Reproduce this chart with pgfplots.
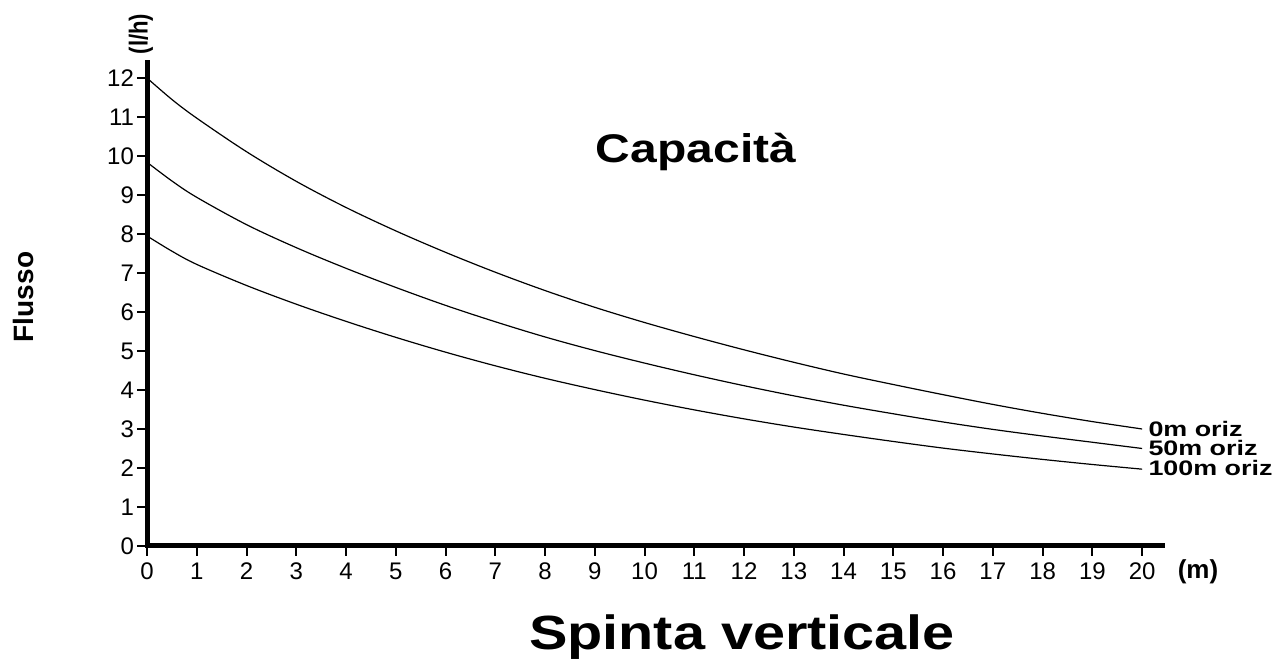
\documentclass[border=0pt]{standalone}
\usepackage{fontspec}
\setmainfont{Liberation Sans}
\usepackage{graphicx}
\usepackage{pgfplots}
\pgfplotsset{compat=1.18}
\begin{document}
\begin{tikzpicture}
\useasboundingbox (-73.5pt,-58pt) rectangle (566.5pt,273pt);
\begin{axis}[
  scale only axis, width=507.5pt, height=241.8pt,
  xmin=0, xmax=20.4, ymin=0, ymax=12.4,
  axis x line*=bottom, axis y line*=left,
  axis line style={line width=2.5pt, line cap=rect, black},
  xtick={0,...,20}, ytick={0,...,12},
  tick align=outside, major tick length=5pt,
  tick style={line width=1pt, black},
  tick label style={font=\fontsize{12}{14}\selectfont, black},
  yticklabel style={xshift=2pt},
  /pgf/number format/assume math mode=true,
  clip=false,
]
\addplot[black, line width=0.6pt, smooth, tension=0.55] coordinates {
(0,12.00) (0.5,11.45) (1,10.97) (2,10.11) (3,9.35) (4,8.68) (5,8.08) (6,7.53) (7,7.02) (8,6.55) (9,6.12) (10,5.73) (11,5.37) (12,5.03) (13,4.71) (14,4.41) (15,4.14) (16,3.88) (17,3.63) (18,3.40) (19,3.19) (20,3.00)};
\addplot[black, line width=0.6pt, smooth, tension=0.55] coordinates {
(0,9.84) (0.5,9.36) (1,8.94) (2,8.24) (3,7.65) (4,7.12) (5,6.63) (6,6.17) (7,5.75) (8,5.36) (9,5.01) (10,4.69) (11,4.39) (12,4.11) (13,3.85) (14,3.61) (15,3.39) (16,3.18) (17,2.99) (18,2.82) (19,2.66) (20,2.50)};
\addplot[black, line width=0.6pt, smooth, tension=0.55] coordinates {
(0,7.95) (0.5,7.56) (1,7.22) (2,6.68) (3,6.20) (4,5.76) (5,5.35) (6,4.97) (7,4.62) (8,4.30) (9,4.01) (10,3.74) (11,3.49) (12,3.26) (13,3.05) (14,2.86) (15,2.68) (16,2.51) (17,2.36) (18,2.22) (19,2.09) (20,1.97)};
\node[anchor=west, inner sep=0pt, xshift=3pt, font=\bfseries\fontsize{10.5}{12}\selectfont] at (axis cs:20,3) {\scalebox{1.28}[1]{0m oriz}};
\node[anchor=west, inner sep=0pt, xshift=3pt, font=\bfseries\fontsize{10.5}{12}\selectfont] at (axis cs:20,2.5) {\scalebox{1.28}[1]{50m oriz}};
\node[anchor=west, inner sep=0pt, xshift=3pt, font=\bfseries\fontsize{10.5}{12}\selectfont] at (axis cs:20,2) {\scalebox{1.28}[1]{100m oriz}};
\end{axis}
\node[anchor=base, inner sep=0pt, font=\bfseries\fontsize{20}{24}\selectfont] at (274.5pt,191.5pt) {\scalebox{1.2}[1]{Capacità}};
\node[rotate=90, inner sep=0pt, font=\bfseries\fontsize{14}{16}\selectfont] at (-62pt,124.5pt) {Flusso};
\node[rotate=90, inner sep=0pt, font=\bfseries\fontsize{13}{15}\selectfont] at (-3pt,256pt) {\scalebox{0.85}[1]{(l/h)}};
\node[inner sep=0pt, font=\bfseries\fontsize{13}{15}\selectfont] at (525.5pt,-13pt) {(m)};
\node[anchor=base, inner sep=0pt, font=\bfseries\fontsize{24}{28}\selectfont] at (297.5pt,-52pt) {\scalebox{1.2}[1]{Spinta verticale}};
\end{tikzpicture}
\end{document}
